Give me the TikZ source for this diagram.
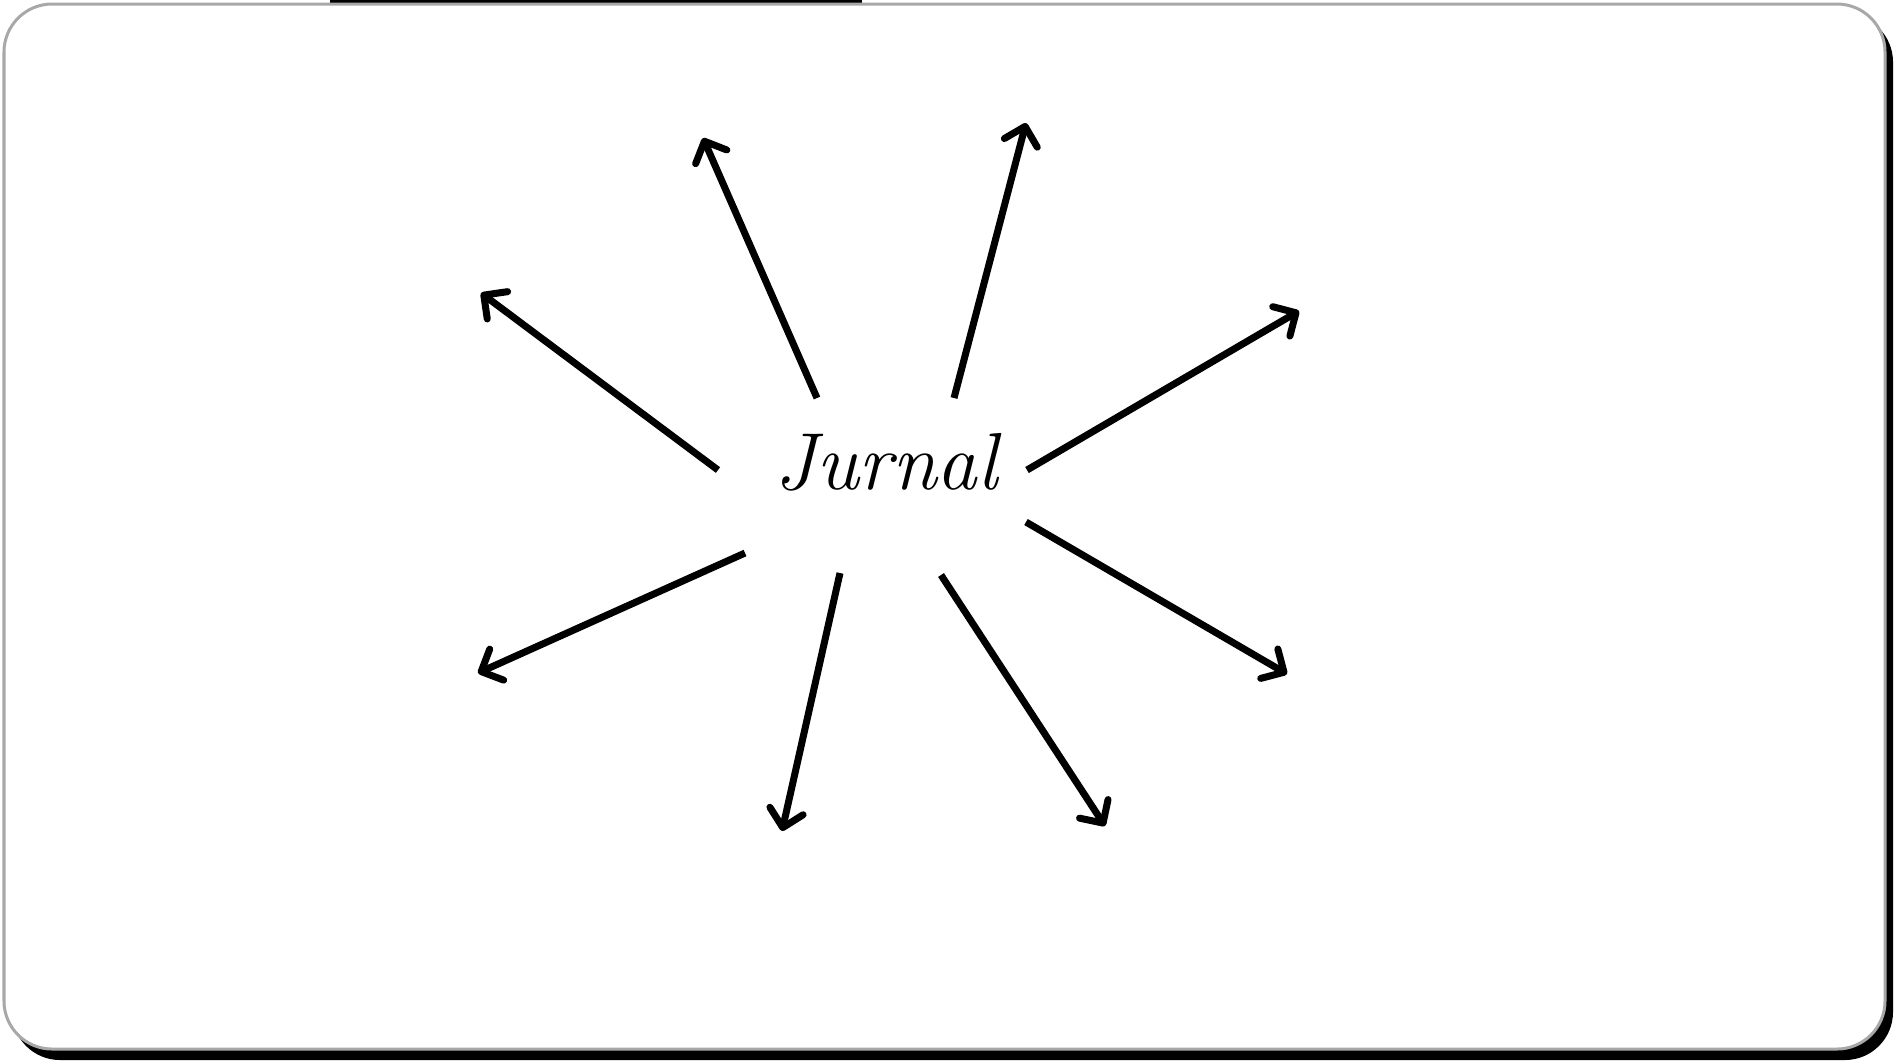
\documentclass[tikz,border=0pt]{standalone}
\usepackage{amsmath, amssymb}
\usepackage{xcolor}
\usetikzlibrary{arrows.meta}

\definecolor{framegray}{HTML}{A8A8A8}

\tikzset{
  ray/.style={line width=0.07cm,
    -{Straight Barb[length=0.17cm,width=0.34cm,line cap=round,line join=round]}},
  frame/.style={draw=framegray, line width=0.03cm, rounded corners=0.48cm, fill=white}
}

\begin{document}
\begin{tikzpicture}[x=0.01cm,y=-0.01cm]
  \useasboundingbox (0,0) rectangle (1894,1062);
  % shadow and frame
  \fill (330,0) rectangle (862,5);
  \fill[rounded corners=0.48cm] (12,14) rectangle (1893,1060);
  \draw[frame] (4,4) rectangle (1885,1049);
  % title
  \node (jurnal) at (886,462) {\fontsize{23}{27}\selectfont\itshape Jurnal};
  % ray ends
  \coordinate (s1) at (817,398);  \coordinate (e1) at (703,138);
  \coordinate (s2) at (954,398);  \coordinate (e2) at (1026,123);
  \coordinate (s3) at (718,470);  \coordinate (e3) at (481,293);
  \coordinate (s4) at (1027,470); \coordinate (e4) at (1299,311);
  \coordinate (s5) at (745,553);  \coordinate (e5) at (478,673);
  \coordinate (s6) at (1026,522); \coordinate (e6) at (1287,674);
  \coordinate (s7) at (840,573);  \coordinate (e7) at (782,831);
  \coordinate (s8) at (941,575);  \coordinate (e8) at (1105,826);
  % rays
  \draw[ray] (s1) -- (e1);
  \draw[ray] (s2) -- (e2);
  \draw[ray] (s3) -- (e3);
  \draw[ray] (s4) -- (e4);
  \draw[ray] (s5) -- (e5);
  \draw[ray] (s6) -- (e6);
  \draw[ray] (s7) -- (e7);
  \draw[ray] (s8) -- (e8);
\end{tikzpicture}
\end{document}
